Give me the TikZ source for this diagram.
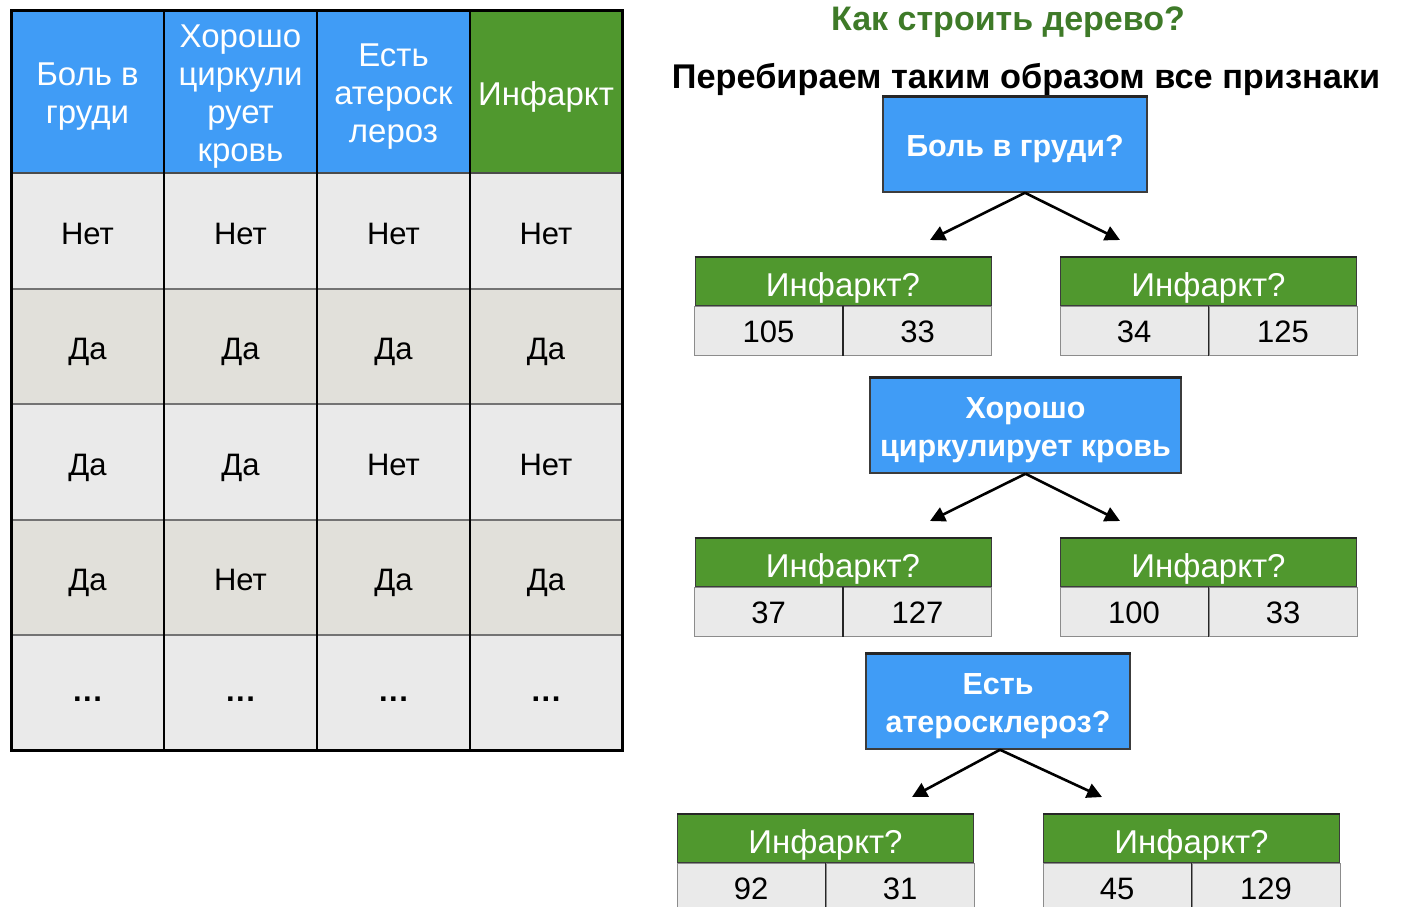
\documentclass[tikz,border=0pt]{standalone}
\usepackage{fontspec}
\setmainfont{Liberation Sans}
\usetikzlibrary{arrows.meta}
\definecolor{hdrblue}{RGB}{64,156,246}
\definecolor{hdrgreen}{RGB}{80,152,46}
\definecolor{titlegreen}{RGB}{62,122,40}
\definecolor{rowlight}{RGB}{234,234,234}
\definecolor{rowwarm}{RGB}{225,224,218}
\definecolor{framegray}{RGB}{60,60,60}
\newcommand{\cellellipsis}{\raisebox{4pt}{\textbf{.\kern1.5pt.\kern1.5pt.}}}
\tikzset{
  cell/.style={inner sep=0pt, outer sep=0pt},
  headcell/.style={cell, minimum height=162pt},
  headtext/.style={text=white, align=center, inner sep=0pt,
    font=\fontsize{33}{38}\selectfont},
  datacell/.style={cell, text=black, minimum height=115.6pt,
    font=\fontsize{31}{36}\selectfont, text height=26pt, text depth=0pt},
  question/.style={draw=framegray, line width=1.5pt, fill=hdrblue,
    inner sep=0pt, minimum height=95pt},
  qtext/.style={text=white, inner sep=0pt, align=center,
    font=\fontsize{30.5}{38}\selectfont\bfseries},
  leafhead/.style={draw=framegray, line width=1pt, fill=hdrgreen, text=white,
    inner sep=0pt, minimum width=296pt, minimum height=48pt,
    font=\fontsize{33}{38}\selectfont, text height=31.5pt, text depth=0pt},
  leafcell/.style={draw=black!45, line width=1pt, fill=rowlight, text=black,
    inner sep=0pt, minimum width=148pt, minimum height=49pt,
    font=\fontsize{31}{36}\selectfont, text height=23pt, text depth=0pt},
  branch/.style={line width=2.6pt, -{Triangle[length=15pt,width=15pt]}},
}
\begin{document}
\begin{tikzpicture}[x=1pt,y=-1pt]
\clip (0,0) rectangle (1406,907);
\fill[white] (0,0) rectangle (1406,907);

% ---------- feature table ----------
\foreach \cx/\w/\txt/\col [count=\i] in
  {87.5/153/{Боль в\\груди}/hdrblue,
   240.5/153/{Хорошо\\циркули\\рует\\кровь}/hdrblue,
   393.5/153/{Есть\\атероск\\лероз}/hdrblue,
   546/152/{Инфаркт}/hdrgreen}
{
  \node[headcell, fill=\col, minimum width=\w pt] (h\i) at (\cx,92) {};
  \node[headtext] (h\i t) at (\cx,97) {\txt};
}

\foreach \cy/\fillc/\a/\b/\c/\d [count=\r] in
  {231/rowlight/Нет/Нет/Нет/Нет,
   346.5/rowwarm/Да/Да/Да/Да,
   462/rowlight/Да/Да/Нет/Нет,
   577.5/rowwarm/Да/Нет/Да/Да,
   692.5/rowlight/\cellellipsis/\cellellipsis/\cellellipsis/\cellellipsis}
{
  \node[datacell, fill=\fillc, minimum width=153pt] (r\r c1) at (87.5,\cy) {\a};
  \node[datacell, fill=\fillc, minimum width=153pt] (r\r c2) at (240.5,\cy) {\b};
  \node[datacell, fill=\fillc, minimum width=153pt] (r\r c3) at (393.5,\cy) {\c};
  \node[datacell, fill=\fillc, minimum width=152pt] (r\r c4) at (546,\cy) {\d};
}

% grid lines
\foreach \y in {289,404,520,635}
  \draw[black!55, line width=1.2pt] (11,\y) -- (622,\y);
\draw[black!70, line width=1.2pt] (11,173) -- (622,173);
\foreach \x in {164,317,470}
  \draw[black, line width=1.8pt] (\x,11) -- (\x,750);
\draw[black, line width=3pt] (11,11) rectangle (622,750);

% ---------- headings ----------
\node[text=titlegreen, font=\fontsize{34}{40}\selectfont\bfseries] (title) at (1008,22) {Как строить дерево?};
\node[text=black, font=\fontsize{34.3}{40}\selectfont\bfseries] (subtitle) at (1026,79) {Перебираем таким образом все признаки};

% ---------- tree: level 1 ----------
\node[question, minimum width=264pt] (q1) at (1015,144.5) {};
\node[qtext] (q1t) at (1015,149) {Боль в груди?};
\draw[black!85, line width=2.5pt] (q1.north west) -- (q1.north east);
\coordinate (q1l) at (930,240);
\coordinate (q1r) at (1120,240);
\draw[branch] ([xshift=10pt]q1.south) -- (q1l);
\draw[branch] ([xshift=10pt]q1.south) -- (q1r);

\node[leafhead] (l1h) at (843,281) {Инфаркт?};
\node[leafcell, anchor=north east] (l1a) at (l1h.south) {105};
\node[leafcell, anchor=north west] (l1b) at (l1h.south) {33};
\node[leafhead] (r1h) at (1208.5,281) {Инфаркт?};
\node[leafcell, anchor=north east] (r1a) at (r1h.south) {34};
\node[leafcell, anchor=north west] (r1b) at (r1h.south) {125};

% ---------- tree: level 2 ----------
\node[question, minimum width=311pt] (q2) at (1025.5,425.5) {};
\node[qtext] (q2t) at (1025.5,430) {Хорошо\\циркулирует кровь};
\draw[black!85, line width=2.5pt] (q2.north west) -- (q2.north east);
\coordinate (q2l) at (930,521);
\coordinate (q2r) at (1120,521);
\draw[branch] (q2.south) -- (q2l);
\draw[branch] (q2.south) -- (q2r);

\node[leafhead] (l2h) at (843,562) {Инфаркт?};
\node[leafcell, anchor=north east] (l2a) at (l2h.south) {37};
\node[leafcell, anchor=north west] (l2b) at (l2h.south) {127};
\node[leafhead] (r2h) at (1208.5,562) {Инфаркт?};
\node[leafcell, anchor=north east] (r2a) at (r2h.south) {100};
\node[leafcell, anchor=north west] (r2b) at (r2h.south) {33};

% ---------- tree: level 3 ----------
\node[question, minimum width=264pt] (q3) at (998,701.5) {};
\node[qtext] (q3t) at (998,706) {Есть\\атеросклероз?};
\draw[black!85, line width=2.5pt] (q3.north west) -- (q3.north east);
\coordinate (q3l) at (912,797);
\coordinate (q3r) at (1102,797);
\draw[branch] ([xshift=2pt]q3.south) -- (q3l);
\draw[branch] ([xshift=2pt]q3.south) -- (q3r);

\node[leafhead] (l3h) at (825.5,838) {Инфаркт?};
\node[leafcell, anchor=north east] (l3a) at (l3h.south) {92};
\node[leafcell, anchor=north west] (l3b) at (l3h.south) {31};
\node[leafhead] (r3h) at (1191.5,838) {Инфаркт?};
\node[leafcell, anchor=north east] (r3a) at (r3h.south) {45};
\node[leafcell, anchor=north west] (r3b) at (r3h.south) {129};

% dark rules on top of the leaf tables and between their two counts
\foreach \n in {l1,r1,l2,r2,l3,r3}
{
  \draw[black!85, line width=2pt] (\n h.north west) -- (\n h.north east);
  \draw[black!85, line width=1.6pt] (\n a.north east) -- (\n a.south east);
}
\end{tikzpicture}
\end{document}
